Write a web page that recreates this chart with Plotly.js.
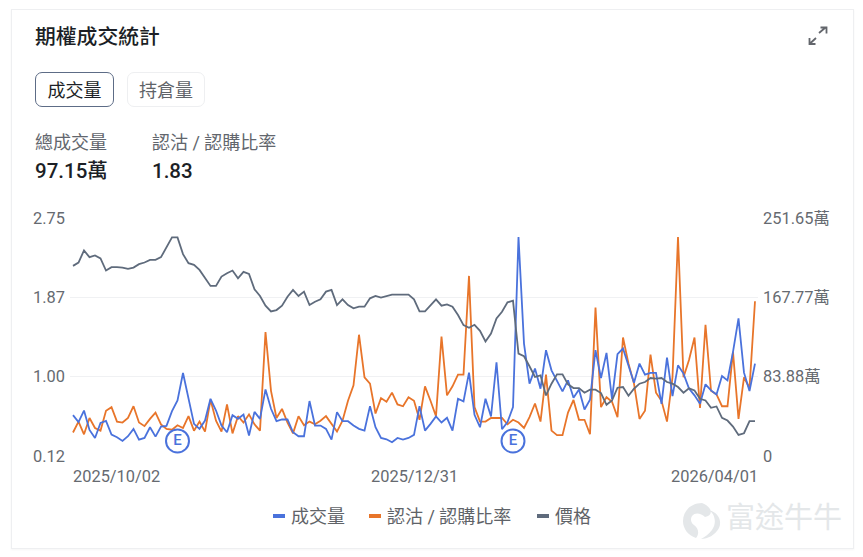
<!DOCTYPE html>
<html><head><meta charset="utf-8">
<script src="https://cdn.plot.ly/plotly-3.0.1.min.js"></script>
<style>
html,body{margin:0;padding:0;background:#fff;width:863px;height:557px;overflow:hidden;font-family:Roboto,"Noto Sans CJK TC",sans-serif}
.a{position:absolute;white-space:nowrap;line-height:1}
#card{position:absolute;left:11px;top:9px;width:841px;height:538px;border:1px solid #eeeff1;box-sizing:content-box;box-shadow:0 1px 2px rgba(0,0,0,.04)}
#chart{position:absolute;left:0;top:0;width:863px;height:557px}
.btn{position:absolute;top:72px;height:33px;border-radius:7px;box-sizing:content-box;text-align:center;line-height:35px;font-size:18px}
</style></head><body>
<div id="card"></div>
<div class="a" style="left:35px;top:26.500px;font-size:20.800px;font-weight:500;color:#1c1f26">期權成交統計</div>
<svg class="a" style="left:805px;top:24px" width="26" height="24" viewBox="0 0 26 24"><g fill="none" stroke="#63666c" stroke-width="1.800"><path d="M14 9 L20.500 3.500M15.500 3.500H21.500V9.500"/><path d="M11 14 L5 19.500M4.500 14V20H10.500"/></g></svg>
<div class="btn" style="left:35px;width:77px;border:1.500px solid #5d6c86;color:#1c1f26">成交量</div>
<div class="btn" style="left:127px;width:76px;border:1.500px solid #eeeff1;color:#5f6368">持倉量</div>
<div class="a" style="left:35px;top:134px;font-size:18px;color:#62666d">總成交量</div>
<div class="a" style="left:152px;top:134px;font-size:18px;color:#62666d">認沽 / 認購比率</div>
<div class="a" style="left:35px;top:161px;font-size:20.500px;font-weight:500;color:#1c1f26">97.15萬</div>
<div class="a" style="left:152px;top:161px;font-size:20.500px;font-weight:500;color:#1c1f26">1.83</div>
<svg class="a" style="left:682px;top:502px" width="40" height="38" viewBox="0 0 40 38"><path d="M20 1C9 1 1 9 1 19c0 8 5 14 13 17 4-5 2-10-2-13-3-2-4-6-2-9 3-4 9-3 13 1 5-1 7-4 5-8-2-3-5-5-8-6zM27 8c6 4 8 13 3 20-3 4-7 7-11 9 7 0 14-4 18-11 3-7 0-15-10-18z" fill="#e4e7e9"/></svg>
<div class="a" style="left:726px;top:504px;font-size:29px;color:#e4e7e9">富途牛牛</div>
<div id="chart"></div>
<script>
const dateLabels = ['2025/10/02','2025/12/31','2026/04/01'];
const dateIndex = [0,62,124];
const seriesNames = ['成交量','認沽 / 認購比率','價格'];
const ratioTicks = [0.12,1.00,1.87,2.75];
const ratioTickText = ['0.12','1.00','1.87','2.75'];
const volumeTicks = [0,83.88,167.77,251.65];
const volumeTickText = ['0','83.88萬','167.77萬','251.65萬'];
const earningsIndex = [19,80];
const earningsLevel = [15.9,15.9];
// 成交量 (萬)
const volume = [43.2,35.8,48.1,27.6,19.1,35.0,37.2,22.7,19.8,15.9,20.9,28.7,17.3,19.1,30.4,20.5,31.2,31.9,47.4,58.8,87.8,60.5,34.0,28.7,37.5,60.5,48.1,32.2,25.1,43.2,39.3,43.9,21.6,46.7,39.3,70.4,49.9,36.8,38.6,38.6,25.1,20.9,20.9,58.1,32.2,32.2,28.7,17.3,46.4,36.8,36.8,32.2,28.7,26.9,52.7,30.4,19.1,17.7,14.5,19.1,17.3,19.1,22.3,52.7,26.9,34.0,41.8,35.4,40.4,26.9,60.5,57.7,88.1,43.5,30.4,60.5,41.8,99.1,28.3,35.8,51.7,231.5,118.9,76.5,92.4,71.2,111.9,90.6,80.0,68.3,80.0,61.6,70.4,49.2,59.5,111.9,82.5,109.0,60.5,107.6,113.6,94.2,77.5,97.7,86.0,87.8,87.8,55.2,104.1,63.4,95.9,87.1,71.2,64.1,55.2,75.8,69.4,65.1,84.6,80.0,110.1,145.5,88.1,68.7,97.7];
// 認沽 / 認購比率
const ratio = [0.38,0.50,0.36,0.54,0.43,0.40,0.62,0.66,0.50,0.49,0.54,0.67,0.49,0.45,0.53,0.60,0.47,0.42,0.41,0.46,0.43,0.56,0.40,0.50,0.39,0.74,0.51,0.39,0.69,0.37,0.56,0.49,0.58,0.47,0.40,1.49,0.84,0.54,0.64,0.49,0.37,0.56,0.46,0.50,0.47,0.51,0.56,0.47,0.39,0.51,0.73,0.90,1.46,0.99,0.92,0.59,0.76,0.72,0.82,0.69,0.67,0.77,0.73,0.52,0.89,0.73,0.56,1.44,0.79,0.89,1.02,1.02,2.11,0.66,0.50,0.50,0.54,0.54,0.54,0.47,0.52,0.49,0.43,0.55,0.70,0.50,1.02,0.40,0.35,0.35,0.60,0.74,0.52,0.52,0.36,1.76,0.66,0.77,0.72,0.55,1.43,1.14,0.92,0.53,0.62,1.24,0.82,0.73,0.50,0.99,2.54,0.99,1.18,1.43,0.65,1.57,0.84,0.80,0.67,0.67,1.27,0.53,0.99,0.87,1.83];
// 價格 (scale not printed in the picture)
const price = [56.8,57.8,61.4,59.4,59.9,59.0,55.4,56.4,56.4,56.3,55.9,56.3,57.3,57.8,58.6,58.6,59.4,62.3,65.3,65.3,60.3,57.6,57.1,55.6,53.1,50.8,50.8,53.6,54.6,55.4,53.1,55.0,54.4,49.8,47.8,44.9,43.2,43.6,44.9,47.6,49.6,47.8,49.1,45.1,46.1,46.8,49.1,49.6,45.1,46.8,45.1,44.1,44.6,44.6,47.1,47.8,47.3,47.8,48.2,48.2,48.2,48.2,46.8,43.2,43.2,45.0,46.8,44.9,45.3,44.6,42.1,39.1,38.3,39.2,37.4,34.2,36.6,41.1,43.1,45.9,46.4,30.6,29.8,26.8,23.6,24.1,18.1,21.6,24.4,24.4,21.4,20.3,20.3,18.9,19.8,19.8,18.8,15.3,16.6,20.4,20.6,18.0,20.1,21.6,22.1,23.3,23.1,23.3,22.1,21.6,20.6,18.9,20.2,19.6,17.1,16.6,14.4,14.8,11.4,10.6,8.8,6.3,6.8,10.4,10.4];

const idx = volume.map((_,i)=>i);
const colors = ['#4a72dc','#e8752a','#5f6b7c'];
const L=70,R=105,T=218,B=101,W=863,H=557;
const fontFam = 'Roboto, "Noto Sans CJK TC", sans-serif';
const px = x => (x-L)/(W-L-R), py = y => 1-(y-T)/(H-T-B);
function line(y,name,c,ax){return {x:idx,y:y,name:name,type:'scatter',mode:'lines',yaxis:ax,line:{color:c,width:1.8,shape:'linear'},hoverinfo:'skip',showlegend:false};}
const traces=[
 line(price,seriesNames[2],colors[2],'y3'),
 line(volume,seriesNames[0],colors[0],'y2'),
 line(ratio,seriesNames[1],colors[1],'y'),
 {x:earningsIndex,y:earningsLevel,yaxis:'y2',type:'scatter',mode:'markers+text',text:['E','E'],textposition:'middle center',
  textfont:{family:fontFam,size:15,color:colors[0],weight:500},
  marker:{size:23,color:'rgba(255,255,255,0.9)',line:{color:colors[0],width:2}},showlegend:false,hoverinfo:'skip'}
];
const legendItems=[{s:273,t:290},{s:369,t:386},{s:537,t:554}];
const shapes=legendItems.map((l,i)=>({type:'rect',xref:'paper',yref:'paper',x0:px(l.s),x1:px(l.s+12),y0:py(518),y1:py(514),fillcolor:colors[i],line:{width:0}}));
const ann=[];
legendItems.forEach((l,i)=>ann.push({xref:'paper',yref:'paper',x:px(l.t),y:py(516),xanchor:'left',yanchor:'middle',showarrow:false,text:seriesNames[i],font:{family:fontFam,size:18,color:'#5f6368'},borderpad:0}));
const dateShift=[0,0,3];
['left','center','right'].forEach((a,i)=>ann.push({xref:'x',yref:'paper',x:dateIndex[i],xshift:dateShift[i],y:py(476),xanchor:a,yanchor:'middle',showarrow:false,text:dateLabels[i],font:{family:fontFam,size:16.4,color:'#666a70'},borderpad:0,borderwidth:0}));
const tickFont={family:fontFam,size:16.4,color:'#666a70'};
Plotly.newPlot('chart',traces,{
 width:W,height:H,paper_bgcolor:'rgba(0,0,0,0)',plot_bgcolor:'rgba(0,0,0,0)',
 margin:{l:L,r:R,t:T,b:B,pad:0},showlegend:false,
 xaxis:{type:'linear',range:[-0.545,124.545],showgrid:false,zeroline:false,showticklabels:false,ticks:'',showline:false},
 yaxis:{range:[0.12,2.75],tickvals:ratioTicks,ticktext:ratioTickText,tickfont:tickFont,gridcolor:'#f0f1f3',gridwidth:1,zeroline:false,showline:false,ticks:'',ticklabelstandoff:4},
 yaxis2:{range:[0,251.65],overlaying:'y',side:'right',tickvals:volumeTicks,ticktext:volumeTickText,tickfont:tickFont,showgrid:false,zeroline:false,showline:false,ticks:'',ticklabelstandoff:4},
 yaxis3:{range:[0,71.1],overlaying:'y',visible:false},
 shapes:shapes,annotations:ann
},{staticPlot:true,displayModeBar:false});
</script>
</body></html>
